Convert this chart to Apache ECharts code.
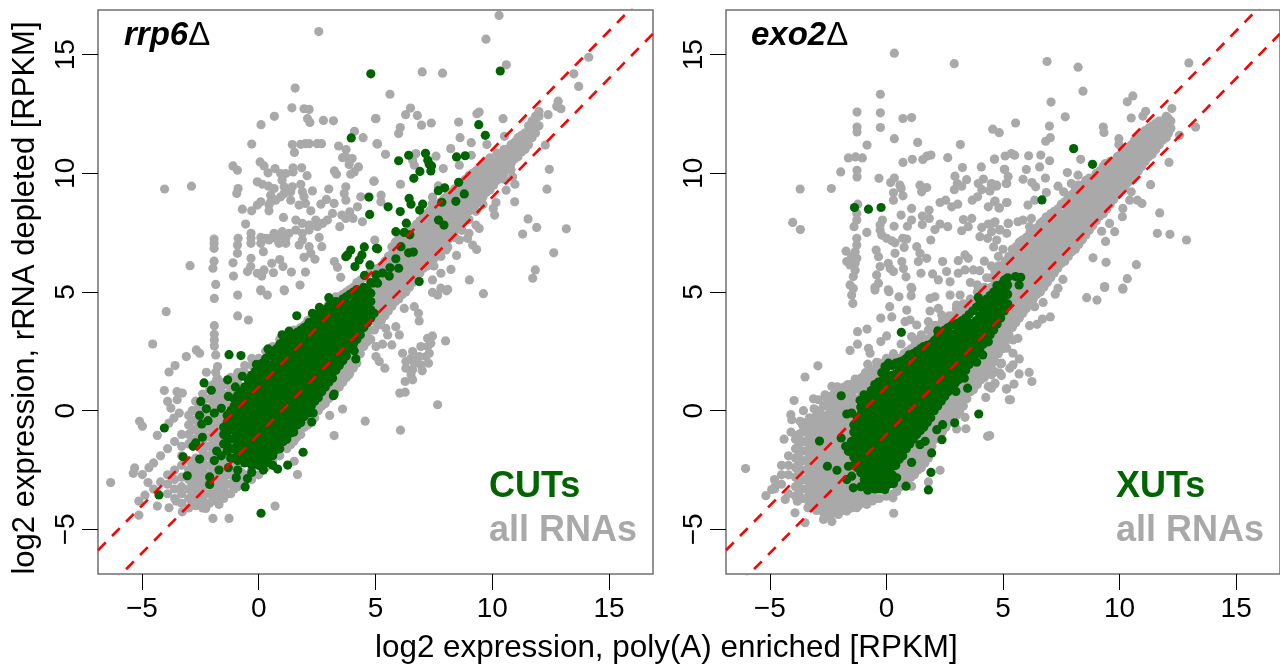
<!DOCTYPE html>
<html><head><meta charset="utf-8">
<style>html,body{margin:0;padding:0;background:#fff}#c{width:1280px;height:667px}</style>
<script src="https://cdn.jsdelivr.net/npm/echarts@6/dist/echarts.min.js"></script>
</head><body><div id="c"></div>
<script>
const tickValues=[-5,0,5,10,15];
const axisMin=-6.88, axisMax=16.88;
const lineOffsets=[1,-1];
const panelTitles=['rrp6','exo2'];
const panelLegends=['CUTs','XUTs'];
const legendAll='all RNAs';
const xTitle='log2 expression, poly(A) enriched [RPKM]';
const yTitle='log2 expression, rRNA depleted [RPKM]';

// left panel: dense areas estimated as columns [x,[y...]]
const grayBandLeft=[[-4.7,[-2.4]],[-4.5,[-3.3,-2.2]],[-4.2,[-3.0,-1.9]],[-3.9,[-3.5,-3.1,-2.7,-1.6]],[-3.6,[-3.7,-3.3,-2.9,-2.5,-1.3]],[-3.3,[-3.9,-3.5,-3.2,-2.8,-2.3,-1.9,-1.5,-1.0]],[-3.0,[-4.1,-3.7,-3.3,-2.9,-2.5,-2.1,-1.4,-1.0,-0.6,-0.2]],[-2.7,[-4.0,-3.6,-3.2,-2.8,-2.4,-2.0,-1.2,-0.8,-0.4,0,0.4]],[-2.4,[-4.1,-3.7,-3.3,-2.9,-2.5,-2.1,-1.7,-1.3,-.9,-.5,-.1,.3,.7]],[-2.1,[-3.9,-3.5,-3.1,-2.7,-2.3,-1.9,-1.5,-1.1,-.7,-.3,.1,.5,.9]],[-1.8,[-3.8,-3.4,-3,-2.6,-2.2,-1.8,-1.4,-1,-.6,-.2,.2,.6,1,1.3]],[-1.5,[-3.7,-3.3,-2.9,-2.5,-2.1,-1.7,-1.3,-.9,-.5,-.1,.3,.7,1.1]],[-1.2,[-3.5,-3.1,-2.7,-2.3,-1.9,.4,.8,1.4]],[-.9,[-3.2,-2.8,-2.4,1.2,1.6]],[-.6,[-3.1,-2.7,1.6,1.9]],[-.3,[-2.9,-2.5,1.9,2.2]],[0,[-2.7,-2.3,2.2]],[.3,[-2.4,-2,2.5]],[.6,[-2.1,2.7]],[.9,[-1.9,-1.5,3]],[1.2,[-1.6,-1.2,3.1]],[1.5,[-1.3,-.9,3.4]],[1.8,[-1,-.6,3.5]],[2.1,[-.6,-.2,3.8]],[2.4,[-.3,.1,.5,4]],[2.7,[.2,.6,4.2]],[3,[.5,.9,4.5]],[3.3,[.9,1.3,4.8]],[3.6,[1.2,1.6,2,4.9]],[3.9,[1.6,2,2.4,5.1]],[4.2,[2,2.4,2.8,5.4]],[4.5,[2.7,3.1,3.5,5.6]],[4.8,[3,3.4,3.8,4.2,5.9]],[5.1,[3.6,4,4.4,4.8,5.2,5.6,6]],[5.4,[4,4.4,4.8,5.2,5.6,6,6.3]],[5.7,[4.4,4.8,5.2,5.6,6,6.4,6.6,6.9]],[6,[4.7,5.1,5.5,5.9,6.3,6.7,7,7.3]],[6.3,[5,5.4,5.8,6.2,6.6,7,7.2,7.5]],[6.6,[5.4,5.8,6.2,6.6,7,7.4,7.7]],[6.9,[5.8,6.2,6.6,7,7.4,7.7,8]],[7.2,[6.1,6.5,6.9,7.3,7.7,8,8.3]],[7.5,[6.1,6.4,6.8,7.2,7.6,8,8.3,8.6]],[7.8,[6.5,6.9,7.3,7.7,8.1,8.5,8.8]],[8.1,[6.9,7.2,7.6,8,8.4,8.8,9.1]],[8.4,[7.3,7.6,8,8.4,8.8,9.1,9.35]],[8.7,[7.6,7.9,8.3,8.7,9.1,9.3,9.6]],[9,[8.05,8.4,8.8,9.2,9.6,9.9]],[9.3,[8.4,8.7,9.1,9.5,9.8,10.1]],[9.6,[8.7,9,9.4,9.8,10.1,10.4]],[9.9,[9.3,9.7,10.1,10.4,10.65]],[10.2,[9.7,10.1,10.5,10.85]],[10.5,[9.75,10,10.4,10.8,11]],[10.8,[10.15,10.4,10.8,11.2]],[11.1,[10.7,11.1,11.5]],[11.4,[11,11.4,11.7]],[11.7,[11.5,11.9,12.2]],[12,[12,12.4,12.6]]];
const grayFillLeft=[[-2.85,[-3.9,-3.5,-3.1,-2.7,-2.3,-1.2,-.8,-.4,0]],[-2.55,[-3.8,-3.4,-3,-2.6,-2.2,-1,-.6,-.2,.2]],[-2.25,[-3.9,-3.5,-3.1,-2.7,-2.3,-1.9,-1.5,-1.1,-.7,-.3,.1,.5]],[-1.95,[-3.7,-3.3,-2.9,-2.5,-2.1,-1.7,-1.3,-.9,-.5,-.1,.3,.7,1.1]],[-1.65,[-3.5,-3.1,-2.7,-2.3,-1.9,-1.5,-1.1,-.7,-.3,.1,.5,.9,1.2]],[-1.35,[-3.5,-3.1,-2.7,-2.3,-1.9,-1.5,-1.1,.3,.7,1.1]],[-1.05,[-3.3,-2.9,-2.5,1.3]],[-.75,[-3,-2.6,1.6]],[1.35,[-1.4,-1.1,3.2]],[1.65,[-1.1,-.8,3.4]],[1.95,[-.7,-.4,3.6]],[2.25,[-.4,0,3.9]],[2.55,[0,.3,4.1]],[2.85,[.3,.7,4.3]],[3.15,[.7,1.1,4.6]],[3.45,[1,1.4,1.8,4.8]],[3.75,[1.4,1.8,2.2,5]],[4.05,[1.8,2.2,2.6,5.2]],[4.35,[2.4,2.8,3.2,5.5]],[4.65,[2.9,3.3,3.7,5.7]],[4.95,[3.4,3.8,4.2,4.6,5,5.4,5.8]],[5.25,[3.8,4.2,4.6,5,5.4,5.8,6.1]],[5.55,[4.2,4.6,5,5.4,5.8,6.2,6.5]],[5.85,[4.6,5,5.4,5.8,6.2,6.6,6.8,7.1]],[6.15,[4.9,5.3,5.7,6.1,6.5,6.9,7.1,7.35]],[6.45,[5.2,5.6,6,6.4,6.8,7.2,7.55]],[6.75,[5.6,6,6.4,6.8,7.2,7.5,7.85]],[7.05,[6,6.4,6.8,7.2,7.6,7.9,8.2]],[7.35,[6.3,6.7,7.1,7.5,7.9,8.2,8.45]],[7.65,[6.7,7.1,7.5,7.9,8.3,8.7]],[7.95,[7,7.4,7.8,8.2,8.6,8.95]],[8.25,[7.4,7.8,8.2,8.6,9,9.2]],[8.55,[7.8,8.2,8.6,9,9.2,9.45]],[8.85,[8.1,8.5,8.9,9.3,9.75]],[9.15,[8.5,8.9,9.3,9.7,10]],[9.45,[8.9,9.3,9.7,10,10.25]],[9.75,[9.2,9.6,10,10.2,10.5]],[10.05,[9.5,9.9,10.3]],[10.35,[9.9,10.3,10.7]],[10.65,[10.2,10.6,11]],[10.95,[10.6,11,11.3]],[11.25,[10.9,11.3,11.6]],[11.55,[11.2,11.6,12]],[11.85,[11.7,12.1,12.4]]];
const greenBandLeft=[[-1.5,[-1.4,-1,-.7]],[-1.2,[-2,-1.6,-1.2,-.8,-.4,0]],[-.9,[-2.1,-1.75,-1.4,-1.05,-.7,-.35,0,.35,.65]],[-.6,[-2.2,-1.85,-1.5,-1.15,-.8,-.45,-.1,.25,.6,1]],[-.3,[-2.3,-1.95,-1.6,-1.25,-.9,-.55,-.2,.15,.5,.85,1.2,1.5]],[0,[-2.3,-1.95,-1.6,-1.25,-.9,-.55,-.2,.15,.5,.85,1.2,1.55,1.9]],[.3,[-2.2,-1.85,-1.5,-1.15,-.8,-.45,-.1,.25,.6,.95,1.3,1.65,2,2.2]],[.6,[-1.9,-1.55,-1.2,-.85,-.5,-.15,.2,.55,.9,1.25,1.6,1.95,2.3,2.5]],[.9,[-1.6,-1.25,-.9,-.55,-.2,.15,.5,.85,1.2,1.55,1.9,2.25,2.6,2.8]],[1.2,[-1.2,-.85,-.5,-.15,.2,.55,.9,1.25,1.6,1.95,2.3,2.65,3]],[1.5,[-.9,-.55,-.2,.15,.5,.85,1.2,1.55,1.9,2.25,2.6,2.95,3.2]],[1.8,[-.5,-.15,.2,.55,.9,1.25,1.6,1.95,2.3,2.65,3,3.4]],[2.1,[-.1,.25,.6,.95,1.3,1.65,2,2.35,2.7,3.05,3.4,3.6]],[2.4,[.4,.75,1.1,1.45,1.8,2.15,2.5,2.85,3.2,3.55,3.9]],[2.7,[.8,1.15,1.5,1.85,2.2,2.55,2.9,3.25,3.6,3.95,4.2]],[3,[1.2,1.55,1.9,2.25,2.6,2.95,3.3,3.65,4,4.4]],[3.3,[1.7,2.05,2.4,2.75,3.1,3.45,3.8,4.15,4.6]],[3.6,[2.1,2.45,2.8,3.15,3.5,3.85,4.2,4.7]],[3.9,[2.6,2.95,3.3,3.65,4,4.35,4.9]],[4.2,[3,3.35,3.7,4.05,4.4,4.75,5.1]],[4.5,[3.5,3.85,4.2,4.55,4.9,5.2]],[4.8,[3.9,4.25,4.6,4.95,5.4]]];
const greenFillLeft=[[-1.35,[-1.7,-1.3,-.9,-.5,-.2]],[-1.05,[-2,-1.6,-1.2,-.85,-.5,-.15,.2,.5]],[-.75,[-2.05,-1.7,-1.35,-1,-.65,-.3,.05,.4,.8]],[-.45,[-2.15,-1.8,-1.45,-1.1,-.75,-.4,-.05,.3,.65,1,1.3]],[-.15,[-2.2,-1.85,-1.5,-1.15,-.8,-.45,-.1,.25,.6,.95,1.3,1.65]],[.15,[-2.15,-1.8,-1.45,-1.1,-.75,-.4,-.05,.3,.65,1,1.35,1.7,2]],[.45,[-1.95,-1.6,-1.25,-.9,-.55,-.2,.15,.5,.85,1.2,1.55,1.9,2.3]],[.75,[-1.65,-1.3,-.95,-.6,-.25,.1,.45,.8,1.15,1.5,1.85,2.2,2.6]],[1.05,[-1.3,-.95,-.6,-.25,.1,.45,.8,1.15,1.5,1.85,2.2,2.55,2.9]],[1.35,[-.95,-.6,-.25,.1,.45,.8,1.15,1.5,1.85,2.2,2.55,2.9,3.1]],[1.65,[-.6,-.25,.1,.45,.8,1.15,1.5,1.85,2.2,2.55,2.9,3.3]],[1.95,[-.25,.1,.45,.8,1.15,1.5,1.85,2.2,2.55,2.9,3.25,3.5]],[2.25,[.2,.55,.9,1.25,1.6,1.95,2.3,2.65,3,3.35,3.7]],[2.55,[.55,.9,1.25,1.6,1.95,2.3,2.65,3,3.35,3.7,4.05]],[2.85,[1,1.35,1.7,2.05,2.4,2.75,3.1,3.45,3.8,4.25]],[3.15,[1.4,1.75,2.1,2.45,2.8,3.15,3.5,3.85,4.25,4.5]],[3.45,[1.9,2.25,2.6,2.95,3.3,3.65,4,4.4]],[3.75,[2.3,2.65,3,3.35,3.7,4.05,4.5,4.8]],[4.05,[2.8,3.15,3.5,3.85,4.2,4.55,5]],[4.35,[3.2,3.55,3.9,4.25,4.6,4.95]],[4.65,[3.7,4.05,4.4,4.75,5.1]]];
// left panel: individually read points
const grayPointsLeft=[[2.57,15.97],[1.56,13.59],[1.42,12.76],[1.94,12.72],[2.16,12.69],[.67,12.4],[.1,12.05],[2.09,12.3],[2.19,12.14],[2.77,12.23],[3.2,12.21],[5,12.3],[4.1,11.77],[4.47,11.5],[-.3,11.23],[1.44,11.21],[1.8,11.22],[2,11.25],[2.16,11.25],[2.5,11.25],[2.69,11.25],[1.53,10.88],[3.42,11.15],[3.74,11],[3.73,10.69],[3.59,10.66],[4,10.62],[3.87,10.37],[4.27,10.27],[4.09,10.06],[3.94,9.96],[-1.1,10.31],[-.91,10.13],[.06,10.48],[.23,10.31],[.4,10.02],[.7,10.2],[.94,9.99],[1.16,9.99],[1.47,10.23],[1.47,10.06],[1.84,10.23],[2.07,9.9],[1,9.71],[-.06,9.64],[.16,9.54],[.42,9.46],[.66,9.36],[-.88,9.36],[-.94,9.15],[-4.03,9.34],[-2.88,9.46],[1.09,9.43],[1.44,9.43],[1.8,9.54],[1.87,9.22],[1.37,9.22],[1.09,9.15],[2.3,9.26],[3,9.34],[.51,9.08],[.51,8.8],[.73,8.87],[.94,9.01],[1.37,8.87],[1.94,9.01],[2,8.73],[1.73,8.66],[.44,8.66],[3.73,9.43],[3.66,9.15],[3.73,8.87],[4.37,9.01],[4.94,9.67],[3.24,10.1],[3.33,9.96],[.09,8.8],[-.06,8.66],[-.3,8.42],[-.7,8.49],[.44,8.42],[1.06,8.14],[-.56,7.86],[2.66,8.7],[2.9,8.9],[3.23,8.73],[2.23,8.42],[3.16,8.31],[3.56,8.24],[3.9,8.38],[4.23,8.59],[4.04,8.1],[3.73,8.1],[4.44,7.96],[1.59,8.03],[1.87,7.89],[2.16,7.82],[2.44,8.03],[2.73,7.89],[2.94,8.03],[2.51,7.75],[3.47,7.75],[1.59,7.61],[1.87,7.47],[2.16,7.61],[1.87,7.19],[1.73,6.98],[2.16,6.91],[2.59,7.3],[2.7,6.91],[2.23,6.63],[.09,7.3],[.3,7.26],[.51,7.26],[.73,7.26],[.94,7.26],[1.16,7.26],[1.3,7.47],[1.01,7.54],[.66,7.47],[1.16,7.05],[.87,7.05],[.44,7.19],[-.33,7.47],[-.33,7.26],[-.33,7.05],[.09,7.05],[.2,6.7],[-.88,7.26],[-.91,6.98],[-.91,6.63],[-1.91,7.23],[-1.91,6.84],[-1.91,7.05],[-1.91,6.3],[-1.96,6],[-1.1,6.23],[-1.08,5.67],[-1.84,5.32],[-2.94,6.11],[-.33,6.42],[-.34,6.07],[-.48,5.86],[-.06,5.79],[.13,5.67],[.23,5.93],[.63,5.81],[.56,6.21],[.9,6.37],[1.04,6.07],[1.4,5.84],[2,5.84],[1.94,6.46],[2.41,6.38],[3.24,6.28],[3.37,6.04],[3.51,5.62],[4.97,7.19],[5.06,11.25],[1.77,5.29],[1.09,5.09],[.09,5.09],[-3.96,4.17],[-1.9,4.73],[-.9,4.87],[.09,5.05],[.37,4.87],[1.1,5.05],[-.9,3.99],[-.44,3.82],[-1.9,3.58],[-1.9,3.22],[-1.9,2.98],[-1.9,2.73],[-4.54,2.81],[-2.67,2.56],[-2.53,2.42],[-1.84,2.35],[-3.1,2.28],[-3.58,1.9],[-3.84,1.63],[-2.24,1.62],[-1.76,1.86],[-1.84,1.62],[-1.77,1.37],[-1.63,1.16],[-4.04,.85],[-3.5,.8],[-3.27,.74],[-3.49,.46],[-3.9,.39],[-3.76,.11],[-3.4,-.1],[-3.63,-.31],[-3.84,-.52],[-5.1,-.45],[-4.98,-.66],[-4.34,-1.04],[-5.31,-2.41],[-5.37,-2.64],[-4.98,-2.69],[-6.34,-3.03],[-4.74,-3.03],[-5.13,-3.81],[-4.87,-3.56],[-5.13,-4.4],[-4.34,-4.02],[-3.84,-4.09],[-3.53,-3.81],[-3.27,-4.26],[-2.27,-4.12],[-1.96,-4.54],[-1.27,-4.54],[-1.7,-3.95],[.7,-4.02],[1.66,-2.69],[3.23,-1.05],[3.59,.07],[3.04,-.2],[4.56,-.44],[1.52,-2.13],[1.37,-1.43],[1.59,-1.15],[3.87,1.51],[3.73,1.4],[3.37,1.09],[3.3,.95],[10.29,16.65],[9.73,15.65],[10.6,14.57],[7,14.27],[7.87,14.22],[5.62,13.33],[14.13,14.89],[13.49,14.19],[13.7,13.66],[12.82,13.04],[12.76,12.82],[12.94,12.72],[12.39,12.47],[6.5,12.75],[6.29,12.47],[6.79,12.44],[5.02,12.31],[6.06,11.93],[5.99,11.68],[6.97,12.03],[7.39,12.12],[8.56,12.16],[9.34,12.51],[9.44,12.58],[10.46,12.3],[8.62,11.5],[9.1,11.29],[9.77,11.21],[10.52,11.56],[5.09,11.23],[5.43,10.8],[8.22,11.04],[6.73,10.83],[6.59,10.55],[6.66,10.34],[7.59,10.72],[7.9,10.2],[8.59,10.34],[9.1,10.76],[12.27,11.19],[12.44,10.17],[12.34,9.33],[4.93,9.67],[6.07,9.54],[5.24,9.08],[5.23,8.8],[7.69,9.47],[7.44,9],[7.44,8.73],[10.96,8.8],[10.16,8.77],[10.04,8.52],[10.1,8.24],[11.53,8.08],[11.9,7.72],[11.3,7.44],[13.17,7.66],[12.63,6.65],[11.84,5.93],[11.73,5.58],[9.02,5.51],[8.23,5.95],[7.8,5.79],[7.44,5.51],[7.8,5.16],[8.09,5.11],[9.3,7.82],[9.44,7.68],[9,7.47],[8.59,7.19],[8.94,7.26],[9.16,6.98],[9.33,6.79],[8.47,6.54],[8.02,6.77],[10.87,9.85],[10.97,9.54],[10.59,9.29],[9.62,4.93],[8.04,5.05],[7.66,4.87],[7.44,4.98],[6.87,3.78],[6.84,4.1],[6.66,4.38],[6.23,4.31],[5.87,3.54],[6.02,3.19],[5.44,3.47],[5.52,3.19],[5.7,2.77],[5.3,2.8],[5.02,2.7],[8,2.94],[7.44,3.15],[7.23,3.05],[7.37,2.84],[7.23,2.7],[6.94,2.7],[7.3,2.42],[7.16,2.28],[6.87,2.28],[7.27,2],[6.94,1.93],[7,1.68],[6.59,2.49],[6.52,2.21],[6.3,2.07],[6.66,2],[6.3,1.79],[6.59,1.72],[6.52,1.51],[6.59,1.3],[6.27,1.23],[6.16,2.42],[6.04,.74],[6.27,.78],[7.66,.25],[6.07,-.82],[5.02,2.28],[5.16,2.07],[5.4,1.79]];
const greenPointsLeft=[[10.34,14.31],[4.8,14.19],[9.42,12.05],[9.7,11.6],[3.96,11.49],[6.42,10.76],[5.99,10.53],[7.14,10.84],[7.24,10.55],[7.3,10.38],[7.4,10.31],[7.37,10.1],[6.9,10.08],[6.64,9.79],[8.47,10.69],[8.84,10.74],[8.56,9.62],[7.96,9.39],[7.69,9.27],[8.8,9.13],[6.44,8.94],[6.52,8.7],[7.84,8.78],[8.44,8.82],[7.02,8.7],[6.89,8.45],[6.06,8.39],[5.54,8.59],[4.72,9],[4.75,8.27],[6.32,7.9],[7.7,8.03],[7.93,7.82],[5.87,7.54],[6.23,7.51],[6.47,7.41],[5.09,6.82],[6.09,6.91],[6.42,6.65],[6.62,6.68],[5.87,6.4],[5.62,6.02],[5.99,6],[6.87,5.44],[5.3,5.8],[5.02,5.72],[5.59,5.67],[4.87,5.37],[5.09,5.37],[4.76,6.14],[3.8,6.56],[3.94,6.77],[3.73,6.49],[4.52,6.9],[5.04,6.84],[4.42,6.56],[4.3,6.35],[4.12,6.07],[4.53,5.7],[-1.27,2.36],[-.76,2.32],[-2.34,1.17],[-2.03,.86],[-1.33,1.3],[-2.48,.39],[-2.24,.08],[-2.53,-.2],[-2.17,-.42],[-2.44,-.56],[-4.04,-.73],[-2.41,-1.12],[-2.7,-1.36],[-2.81,-1.5],[-3.24,-1.94],[-2.53,-2.04],[-3.06,-2.74],[-2.1,-2.79],[-2.1,-3.11],[-4.27,-3.55],[.1,-4.32],[-.96,-2.82],[-.48,-2.86],[-.58,-3.21],[.81,-2.46],[1.24,-2.29],[1.9,-1.75],[2.27,-.48],[2.33,-.1],[2.07,.15],[3.2,.63],[3.23,.7],[3.16,1.37],[3.3,1.86],[4.09,2.53],[4.16,2.18],[4.94,4.1],[1.63,4],[2.16,3.72],[3,4.76],[-1.9,-.1],[-1.8,-1.7],[-1.9,-2.1],[-1.7,-2.5],[-1.6,.1],[-1.3,.6],[-1,1],[-.7,1.45],[-.1,1.95],[.4,2.6],[1,3.2],[1.3,3.35],[2.3,4.1],[2.6,4.35],[-1.6,-1.9],[-1.3,-2.4],[-.9,-2.5],[-.3,-2.6],[.2,-2.5],[.6,-2.3]];

// right panel
const grayBandRight=[[-4.8,[-3.3,-2.9]],[-4.5,[-3.1,-2.7,-2.3]],[-4.2,[-3.5,-2.7,-2.3,-1.9]],[-3.9,[-3.6,-3.2,-2.8,-2.4,-2,-1.6,-1.2]],[-3.6,[-3.7,-3.3,-2.9,-2.5,-2.1,-1.7,-1.3,-.9,-.6]],[-3.3,[-3.9,-3.5,-3.1,-2.7,-2.3,-1.9,-1.5,-1.1,-.7,-.3]],[-3,[-4.2,-3.8,-3.4,-3,-2.6,-2.2,-1.8,-1.4,-1,-.6,-.2]],[-2.7,[-4.3,-3.9,-3.5,-3.1,-2.7,-2.3,-1.9,-1.5,-1.1,-.7,-.3,.2]],[-2.4,[-4.4,-4,-3.6,-3.2,-2.8,-2.4,-2,-1.6,-1.2,-.8,-.4,0,.6]],[-2.1,[-4.3,-3.9,-3.5,-3.1,-2.7,-2.3,-1.9,-1.5,-1.1,-.7,-.3,.1,.5,1]],[-1.8,[-4.2,-3.8,-3.4,-3,-2.6,-2.2,-1.8,-1.4,-1,-.6,-.2,.2,.6,1]],[-1.5,[-4.1,-3.7,-3.3,-2.9,-2.5,-2.1,-1.7,-1.3,-.9,-.5,-.1,.3,.7,1.1]],[-1.2,[-4,-3.6,-3.2,-2.8,-2.4,.1,.5,.9,1.3]],[-.9,[-3.9,-3.5,.9,1.3,1.6]],[-.6,[-3.8,-3.4,1.3,1.7]],[-.3,[-3.7,1.7,2]],[0,[-3.6,2,2.2]],[.3,[-3.5,-3.1,2.1,2.4]],[.6,[-3.2,-2.8,-2.4,-2,2.2]],[.9,[-3,-2.6,-2.2,-1.8,2.5]],[1.2,[-2.7,-2.3,-1.9,-1.5,2.7,3]],[1.5,[-2.4,-2,-1.6,-1.2,2.8,3.2]],[1.8,[-2,-1.6,-1.2,-.8,3,3.4]],[2.1,[-1.2,-.8,-.4,3.2,3.6]],[2.4,[-.9,-.5,-.1,3.4,3.8]],[2.7,[-.5,-.1,.3,3.6,4]],[3,[-.2,.2,.6,3.9,4.3]],[3.3,[.2,.6,1,4.1,4.5]],[3.6,[.8,1.2,1.6,4.3,4.7]],[3.9,[1.1,1.5,1.9,4.6,5]],[4.2,[1.4,1.8,2.2,2.6,4.8,5.2]],[4.5,[1.9,2.3,2.7,3.1,5.2,5.6]],[4.8,[2.4,2.8,3.2,5.4,5.8,6.1]],[5.1,[2.9,3.3,3.7,4.1,4.5,4.9,5.3,5.7,6,6.3]],[5.4,[3.5,3.9,4.3,4.7,5.1,5.5,5.9,6.3,6.8]],[5.7,[3.9,4.3,4.7,5.1,5.5,5.9,6.3,6.7,7.1]],[6,[4.3,4.7,5.1,5.5,5.9,6.3,6.7,7,7.3]],[6.3,[4.7,5.1,5.5,5.9,6.3,6.7,7.1,7.6]],[6.6,[5,5.4,5.8,6.2,6.6,7,7.4,7.9]],[6.9,[5.4,5.8,6.2,6.6,7,7.4,7.8,8.1]],[7.2,[5.8,6.2,6.6,7,7.4,7.8,8.1,8.4]],[7.5,[6.2,6.6,7,7.4,7.8,8.2,8.7]],[7.8,[6.5,6.9,7.3,7.7,8.1,8.5,9]],[8.1,[6.8,7.2,7.6,8,8.4,8.8,9.3]],[8.4,[7.2,7.6,8,8.4,8.8,9.2,9.5]],[8.7,[7.6,8,8.4,8.8,9.2,9.6,9.8]],[9,[8,8.4,8.8,9.2,9.6,10]],[9.3,[8.3,8.7,9.1,9.5,9.9,10.3]],[9.6,[8.7,9.1,9.5,9.9,10.2,10.5]],[9.9,[9.1,9.5,9.9,10.3,10.7]],[10.2,[9.4,9.8,10.2,10.6,10.9]],[10.5,[9.7,10.1,10.5,10.9,11.2]],[10.8,[10.1,10.5,10.9,11.2,11.5]],[11.1,[10.5,10.9,11.3,11.8]],[11.4,[10.8,11.2,11.6,12]],[11.7,[11.2,11.6,11.9,12.2]],[12,[11.5,11.9,12.4]],[12.2,[11.9,12.2]]];
const grayFillRight=[[-3.75,[-3.4,-3,-2.6,-2.2,-1.8,-1.4,-1]],[-3.45,[-3.7,-3.3,-2.9,-2.5,-2.1,-1.7,-1.3,-.9,-.5]],[-3.15,[-4,-3.6,-3.2,-2.8,-2.4,-2,-1.6,-1.2,-.8,-.4]],[-2.85,[-4.1,-3.7,-3.3,-2.9,-2.5,-2.1,-1.7,-1.3,-.9,-.5,0]],[-2.55,[-4.2,-3.8,-3.4,-3,-2.6,-2.2,-1.8,-1.4,-1,-.6,-.2,.2,.5]],[-2.25,[-4.1,-3.7,-3.3,-2.9,-2.5,-2.1,-1.7,-1.3,-.9,-.5,-.1,.3,.7]],[-1.95,[-4.1,-3.7,-3.3,-2.9,-2.5,-2.1,-1.7,-1.3,-.9,-.5,-.1,.3,.7,.9]],[-1.65,[-4,-3.6,-3.2,-2.8,-2.4,-2,-1.6,-1.2,-.8,-.4,0,.4,.8,1.1]],[-1.35,[-3.9,-3.5,-3.1,-2.7,-.3,.1,.5,.9,1.2]],[-1.05,[-3.8,-3.4,-3,.6,1,1.4]],[-.75,[-3.8,-3.5,1,1.5]],[-.45,[-3.7,1.4,1.8]],[.45,[-3.4,-3,-2.6,2.2]],[.75,[-3.1,-2.7,-2.3,-1.9,2.4]],[1.05,[-2.8,-2.4,-2,-1.6,2.6]],[1.35,[-2.5,-2.1,-1.7,-1.3,2.8]],[1.65,[-2.2,-1.8,-1.4,-1,3]],[1.95,[-1.5,-1.1,-.7,3.2]],[2.25,[-1,-.6,-.2,3.5]],[2.55,[-.7,-.3,.1,3.7]],[2.85,[-.3,.1,.5,4]],[3.15,[0,.4,.8,4.2]],[3.45,[.5,.9,1.3,4.4]],[3.75,[1,1.4,1.8,4.6]],[4.05,[1.3,1.7,2.1,2.5,4.9]],[4.35,[1.6,2,2.4,2.8,5.1]],[4.65,[2.1,2.5,2.9,3.3,5.5,5.9]],[4.95,[2.6,3,3.4,3.8,5.6,6.1]],[5.25,[3.2,3.6,4,4.4,4.8,5.2,5.6,6,6.5]],[5.55,[3.7,4.1,4.5,4.9,5.3,5.7,6.1,6.5,6.9]],[5.85,[4.1,4.5,4.9,5.3,5.7,6.1,6.5,6.9,7.2]],[6.15,[4.5,4.9,5.3,5.7,6.1,6.5,6.9,7.3,7.5]],[6.45,[4.9,5.3,5.7,6.1,6.5,6.9,7.3,7.7]],[6.75,[5.2,5.6,6,6.4,6.8,7.2,7.6,8]],[7.05,[5.6,6,6.4,6.8,7.2,7.6,8,8.3]],[7.35,[6,6.4,6.8,7.2,7.6,8,8.5]],[7.65,[6.3,6.7,7.1,7.5,7.9,8.3,8.8]],[7.95,[6.7,7.1,7.5,7.9,8.3,8.7,9.1]],[8.25,[7,7.4,7.8,8.2,8.6,9,9.4]],[8.55,[7.4,7.8,8.2,8.6,9,9.4,9.7]],[8.85,[7.8,8.2,8.6,9,9.4,9.8]],[9.15,[8.2,8.6,9,9.4,9.8,10.1]],[9.45,[8.5,8.9,9.3,9.7,10.1,10.4]],[9.75,[8.9,9.3,9.7,10.1,10.5]],[10.05,[9.3,9.7,10.1,10.5,10.8]],[10.35,[9.6,10,10.4,10.8,11]],[10.65,[9.9,10.3,10.7,11.1,11.4]],[10.95,[10.3,10.7,11.1,11.5,11.7]],[11.25,[10.7,11.1,11.5,11.9]],[11.55,[11,11.4,11.8,12.1]],[11.85,[11.4,11.8,12.2]],[12.1,[11.7,12.1,12.3]]];
const greenBandRight=[[-1.4,[-2.3,-1.95,-1.6,-1.25,-.9,-.6]],[-1.1,[-2.6,-2.25,-1.9,-1.55,-1.2,-.85,-.5,-.15,.15]],[-.8,[-3.1,-2.75,-2.4,-2.05,-1.7,-1.35,-1,-.65,-.3,.05,.35,.6]],[-.5,[-3.3,-2.95,-2.6,-2.25,-1.9,-1.55,-1.2,-.85,-.5,-.15,.2,.55,.85,1.1]],[-.2,[-3.3,-2.95,-2.6,-2.25,-1.9,-1.55,-1.2,-.85,-.5,-.15,.2,.55,.9,1.25,1.6]],[.1,[-3.1,-2.75,-2.4,-2.05,-1.7,-1.35,-1,-.65,-.3,.05,.4,.75,1.1,1.45,1.9]],[.4,[-2.3,-1.95,-1.6,-1.25,-.9,-.55,-.2,.15,.5,.85,1.2,1.55,2]],[.7,[-1.9,-1.55,-1.2,-.85,-.5,-.15,.2,.55,.9,1.25,1.6,2.1]],[1,[-1.4,-1.05,-.7,-.35,0,.35,.7,1.05,1.4,1.75,2.3]],[1.3,[-1,-.65,-.3,.05,.4,.75,1.1,1.45,1.8,2.15,2.5]],[1.6,[-.7,-.35,0,.35,.7,1.05,1.4,1.75,2.1,2.45,2.7]],[1.9,[-.3,.05,.4,.75,1.1,1.45,1.8,2.15,2.5,2.8]],[2.2,[.2,.55,.9,1.25,1.6,1.95,2.3,2.65,3.1]],[2.5,[.6,.95,1.3,1.65,2,2.35,2.7,3.05,3.4]],[2.8,[1,1.35,1.7,2.05,2.4,2.75,3.1,3.6]],[3.1,[1.3,1.65,2,2.35,2.7,3.05,3.4,3.7]],[3.4,[1.7,2.05,2.4,2.75,3.1,3.45,3.9]],[3.7,[2.2,2.55,2.9,3.25,3.6,4.2]],[4,[2.6,2.95,3.3,3.65,4,4.5]],[4.3,[3,3.35,3.7,4.05,4.4,4.7]],[4.6,[3.4,3.75,4.1,4.45,5]],[4.9,[3.9,4.25,4.6,4.95,5.3]],[5.2,[4.5,4.9,5.3,5.6]]];
const greenFillRight=[[-1.25,[-2.4,-2.05,-1.7,-1.35,-1,-.65,-.3]],[-.95,[-2.9,-2.55,-2.2,-1.85,-1.5,-1.15,-.8,-.45,-.1,.25]],[-.65,[-3.2,-2.85,-2.5,-2.15,-1.8,-1.45,-1.1,-.75,-.4,-.05,.3,.65,.85]],[-.35,[-3.3,-2.95,-2.6,-2.25,-1.9,-1.55,-1.2,-.85,-.5,-.15,.2,.55,.9,1.2]],[-.05,[-3.2,-2.85,-2.5,-2.15,-1.8,-1.45,-1.1,-.75,-.4,-.05,.3,.65,1,1.35,1.7]],[.25,[-2.7,-2.35,-2,-1.65,-1.3,-.95,-.6,-.25,.1,.45,.8,1.15,1.5,1.9]],[.55,[-2.05,-1.7,-1.35,-1,-.65,-.3,.05,.4,.75,1.1,1.45,1.8,2.05]],[.85,[-1.6,-1.25,-.9,-.55,-.2,.15,.5,.85,1.2,1.55,1.9,2.2]],[1.15,[-1.2,-.85,-.5,-.15,.2,.55,.9,1.25,1.6,1.95,2.4]],[1.45,[-.85,-.5,-.15,.2,.55,.9,1.25,1.6,1.95,2.3,2.6]],[1.75,[-.5,-.15,.2,.55,.9,1.25,1.6,1.95,2.3,2.75]],[2.05,[0,.35,.7,1.05,1.4,1.75,2.1,2.45,2.95]],[2.35,[.4,.75,1.1,1.45,1.8,2.15,2.5,2.85,3.25]],[2.65,[.8,1.15,1.5,1.85,2.2,2.55,2.9,3.25,3.5]],[2.95,[1.15,1.5,1.85,2.2,2.55,2.9,3.25,3.65]],[3.25,[1.5,1.85,2.2,2.55,2.9,3.25,3.6,3.8]],[3.55,[1.95,2.3,2.65,3,3.35,3.7,4.05]],[3.85,[2.4,2.75,3.1,3.45,3.8,4.35]],[4.15,[2.8,3.15,3.5,3.85,4.2,4.6]],[4.45,[3.2,3.55,3.9,4.25,4.6,4.85]],[4.75,[3.65,4,4.35,4.7,5.15]],[5.05,[4.2,4.55,4.9,5.25,5.5]]];
const grayPointsRight=[[.34,15.06],[2.91,14.62],[-.26,13.33],[-1.26,12.58],[-.26,12.55],[.71,12.31],[1.08,12.35],[-1.26,11.95],[-1.26,11.74],[-.26,11.93],[4.56,11.86],[4.84,11.71],[.34,11.46],[1.34,11.3],[3.17,11.21],[-.83,11.19],[-1.63,10.65],[-1.32,10.69],[-1.03,10.65],[.71,10.46],[1.11,10.59],[1.56,10.58],[1.73,10.72],[1.91,10.77],[2.63,10.66],[4.64,10.6],[5.09,10.73],[3.26,10.24],[4.07,10.27],[5.06,10.17],[-1.96,10.06],[-1.26,10.13],[-1.26,9.85],[-.32,9.79],[.34,9.8],[.18,9.61],[.58,9.5],[.63,9.36],[2.94,9.88],[3.44,9.73],[3.04,9.57],[3.23,9.46],[2.91,9.31],[1.44,9.5],[1.73,9.4],[1.51,9.22],[4.16,9.76],[3.94,9.57],[4.09,9.31],[4.51,9.57],[4.73,9.5],[4.44,9.26],[5.16,9.57],[-3.7,9.34],[-2.36,9.36],[.3,9.18],[.3,8.87],[.71,9.05],[2.3,8.77],[2.54,8.87],[2.8,8.59],[3.06,8.7],[3.68,8.87],[3.91,9.01],[4.37,8.59],[4.66,8.83],[4.84,8.54],[5.16,8.77],[-1.23,8.7],[-1.27,8.31],[-1.27,8.03],[-1.39,7.75],[-4.02,7.93],[-3.69,7.63],[-.84,7.51],[1.08,8.52],[.63,8.24],[1.83,8.45],[1.54,8.2],[1.84,8.1],[1.08,8.03],[.9,7.77],[.33,7.77],[1.54,7.84],[-.17,8.03],[-.27,7.82],[-.27,7.61],[-.2,7.4],[.01,7.26],[.23,7.16],[.37,7.07],[2.08,7.63],[2.3,7.86],[2.63,7.75],[3.3,8.05],[3.66,8.1],[3.23,7.58],[3.51,7.75],[1.9,7.19],[.7,7.26],[.87,7.23],[.76,6.88],[4.09,7.72],[4.37,7.86],[4.66,7.96],[5.23,7.89],[4.87,7.63],[4.51,7.54],[4.01,7.33],[4.34,7.26],[4.73,7.19],[5.16,7.47],[-1.27,7.26],[-1.27,6.98],[-1.34,6.7],[-1.27,6.42],[-1.73,6.72],[-1.7,6.28],[-1.56,6.14],[-1.34,6.21],[-1.34,5.92],[-1.42,5.65],[-1.56,5.3],[-1.49,6.49],[-.44,6.77],[-.34,6.49],[-.27,6.07],[-.42,5.72],[-.34,5.37],[-.49,5.2],[.37,6.63],[.08,6.21],[.16,5.99],[.3,5.86],[.66,6.28],[.73,5.99],[.84,5.64],[1.48,5.79],[1.98,5.76],[1.3,6.91],[1.44,6.63],[1.73,6.42],[1.37,6.28],[2.41,6.28],[3.08,6.32],[3.37,6.56],[3.51,6.42],[2.58,5.86],[2.23,5.51],[2.73,5.43],[3.08,5.79],[3.37,5.93],[3.73,5.93],[1.06,5.2],[.08,5.09],[4.2,6.3],[4,5.9],[4.5,6.1],[4.8,6.5],[3.6,5.4],[3.9,5.3],[4.3,5.6],[4.6,6.9],[5,6.8],[6.89,14.71],[8.22,14.47],[12.97,14.65],[8.43,13.46],[7.06,13],[10.57,13.26],[10.33,13.01],[12.24,12.73],[11.12,12.61],[11,12.41],[10.5,12.33],[7.67,12.38],[5.54,12.12],[6.99,11.99],[9.3,11.95],[9.33,11.72],[7.03,11.5],[6.83,11.35],[9.97,11.46],[9.97,11.21],[13.26,11.95],[12.57,11.6],[5.36,10.83],[5.5,10.76],[4.63,10.59],[6.1,10.74],[6.62,10.77],[7,10.53],[8.33,10.59],[9.39,10.41],[12.12,10.46],[5.07,10.16],[5.22,9.87],[5.14,9.57],[6,10.16],[6.57,10.27],[5.86,9.75],[6.82,9.8],[7.76,10.03],[8.22,9.92],[7.93,9.57],[8.22,9.5],[7.36,9.46],[7.6,9.22],[6.24,9.61],[6.4,9.43],[4.72,9.46],[4.5,9.53],[4.43,9.29],[6.86,9.19],[11.33,9.52],[10.43,8.87],[10.76,8.87],[10.96,8.73],[10.5,9.22],[4.64,8.8],[5.17,8.77],[4.83,8.54],[6.07,8.66],[6.36,8.87],[11.72,8.33],[10.14,8.52],[10.12,8.17],[11.62,7.47],[12.16,7.43],[12.87,7.19],[9.79,7.54],[9.23,7.56],[9.4,7.13],[9.57,7.89],[8.86,6.44],[9.42,6.25],[10.72,6.15],[10.33,5.56],[9.36,5.23],[10.14,5.16],[7.57,5.53],[7.36,5.16],[6.22,8.1],[5.86,8.03],[5.22,7.89],[4.6,7.91],[5.64,7.96],[6.86,8.17],[6.72,7.96],[4.86,7.61],[6.14,7.75],[-6.04,-2.44],[-2.94,1.89],[-3.49,1.42],[-3.96,.43],[-4.1,-.17],[-4.06,-.38],[-3.56,0],[-3.7,-.45],[-4.09,-.9],[-4.39,-1.2],[-3.1,.08],[-3.13,.5],[-2.92,.46],[-2.63,.67],[-2.34,1.02],[-1.99,.95],[-1.34,1.33],[-1.06,1.27],[-.8,1.96],[-.42,2.04],[-.77,2.63],[-.7,2.42],[-1.24,2.8],[-1.56,2.54],[-1.24,3.33],[-.83,3.44],[-.24,3.9],[.23,3.95],[.14,4.38],[-.24,2.91],[.01,3.15],[.63,2.81],[-1.44,4.52],[-1.49,4.87],[-1.42,5.15],[-.49,5.08],[.11,5.01],[.54,4.8],[1.06,4.84],[1.09,5.15],[1.87,4.73],[2.08,4.8],[1.87,4.2],[2.23,4.31],[2.37,4.03],[.87,4.24],[1.01,3.82],[1.3,3.61],[1.8,3.75],[.8,3.75],[1.08,3.12],[1.3,2.91],[2.73,4.87],[3.16,4.87],[3.01,4.45],[-5.17,-3.58],[-4.77,-3.18],[-4.92,-3.32],[-4.34,-3.74],[-3.82,-3.81],[-3.92,-4.3],[-3.37,-4.09],[-3.49,-4.72],[-2.7,-4.58],[-2.34,-4.67],[-2.06,-4.37],[-1.7,-4.23],[-1.27,-4.09],[-.84,-3.95],[.31,-4.32],[.28,-3.67],[1.01,-2.62],[1.08,-3.18],[1.8,-3],[2.3,-2.51],[1.58,-2.13],[1.44,-2.27],[3.01,-.77],[3.41,-.76],[3.37,-.28],[2.8,-.03],[4.34,-1.08],[4.26,.56],[3.87,1.16],[3.73,.88],[4.37,1.02],[4.66,1.16],[3.87,1.58],[4.16,1.62],[4.51,1.51],[4.87,1.58],[4.94,2],[4.66,2.42],[5.16,2.63],[5.16,.92],[5.27,.46],[8.59,4.76],[9.03,4.66],[9.36,5.19],[10.14,5.12],[7.24,4.91],[7.03,3.95],[6.69,3.86],[6.46,3.64],[6.14,3.58],[6.72,4.56],[6.36,4.38],[5.64,3.05],[5.43,2.98],[5,2.63],[4.64,2.42],[5.43,2.42],[5.7,2.18],[4.9,1.97],[5.43,1.93],[5.29,1.79],[6.12,1.61],[6.24,1.23],[5.69,1.55],[5.47,1.12],[5.14,.91],[5.32,.46],[4.93,1.48],[4.64,1.65],[4.64,1.12],[4.5,.95],[4.43,-1.05]];
const greenPointsRight=[[-1.37,8.56],[-.77,8.49],[-.23,8.56],[8.03,11.04],[8.84,10.38],[6.67,8.88],[5.54,5.65],[5.76,5.62],[5.69,5.3],[4.74,5.27],[5.11,5.16],[.64,3.3],[-1.94,.63],[-2.87,-1.28],[-2.53,-2.34],[-2.12,-2.51],[3.96,-.14],[2.93,-.51],[2.41,-.59],[2.16,-.8],[2.38,-1.22],[1.91,-2.6],[1.8,-3.34],[.84,-3.18],[1.94,-1.78],[1.66,-1.29],[1.44,-1.43],[1.08,-2.18],[4.37,2.9],[4.13,2.35],[3.87,2.04],[3.34,1.37],[3.48,.95],[2.98,.81],[2.66,.88],[3.94,4.77],[4.3,4.63],[.97,2.35],[2.2,3.36],[.09,2],[-.06,1.86],[-1.7,-.14],[-1.49,-.1],[-.96,.67],[-1.13,.43],[-1.94,-1.15],[-1.63,-1.71],[-1.27,-1.85],[-1.63,-2.34],[-1.49,-2.76],[-1.7,-2.9],[-1.06,-2.62],[.44,-2.83],[.3,-3.07],[-.06,-3.32],[-1.75,-1.5],[-1.5,-1.3],[-1.42,-3.25],[-1.1,-3.2],[-.8,-3.35]];

const expand=cols=>cols.flatMap(c=>c[1].map(y=>[c[0],y]));
const grayLeft=expand(grayBandLeft).concat(expand(grayFillLeft),grayPointsLeft);
const greenLeft=expand(greenBandLeft).concat(expand(greenFillLeft),greenPointsLeft);
const grayRight=expand(grayBandRight).concat(expand(grayFillRight),grayPointsRight);
const greenRight=expand(greenBandRight).concat(expand(greenFillRight),greenPointsRight);

const FONT='"Liberation Sans",Arial,sans-serif';
const fmt=v=>String(v).replace('-','\u2212');
function xAxis(i){return {type:'value',gridIndex:i,min:axisMin,max:axisMax,splitLine:{show:false},axisLine:{show:false,onZero:false},
  axisTick:{show:true,length:16,customValues:tickValues,lineStyle:{color:'#000',width:1}},
  axisLabel:{show:true,customValues:tickValues,formatter:fmt,fontFamily:FONT,fontSize:28,color:'#000',margin:21}};}
function yAxis(i){return {type:'value',gridIndex:i,min:axisMin,max:axisMax,splitLine:{show:false},axisLine:{show:false,onZero:false},
  axisTick:{show:true,length:16,customValues:tickValues,lineStyle:{color:'#000',width:1}},
  axisLabel:{show:true,customValues:tickValues,formatter:fmt,rotate:90,fontFamily:FONT,fontSize:28,color:'#000',margin:18}};}
function pts(name,data,color,i){return {name,type:'scatter',xAxisIndex:i,yAxisIndex:i,data,symbolSize:9.2,large:false,clip:true,animation:false,
  itemStyle:{color,opacity:1,borderWidth:0},silent:true};}
function diag(off,i){return {type:'line',xAxisIndex:i,yAxisIndex:i,data:[[axisMin,axisMin+off],[axisMax,axisMax+off]],showSymbol:false,symbol:'none',clip:true,animation:false,silent:true,z:5,
  lineStyle:{color:'#FF0000',width:2.6,type:[11,9]}};}
function txt(left,top,text,size,color){return {type:'text',left,top,z:10,style:{text,fontFamily:FONT,fontSize:size,fontWeight:'bold',fill:color}};}
const titleRich={a:{fontFamily:FONT,fontSize:33,fontWeight:'bold',fontStyle:'italic',color:'#000'},b:{fontFamily:FONT,fontSize:33,fontWeight:'normal',fontStyle:'normal',color:'#000'}};

const chart=echarts.init(document.getElementById('c'),null,{renderer:'canvas'});
chart.setOption({animation:false,backgroundColor:'#fff',
  title:[
    {left:124,top:19,padding:0,text:'{a|'+panelTitles[0]+'}{b|\u0394}',textStyle:{fontWeight:'normal',rich:titleRich}},
    {left:751,top:19,padding:0,text:'{a|'+panelTitles[1]+'}{b|\u0394}',textStyle:{fontWeight:'normal',rich:titleRich}}
  ],
  grid:[
    {left:98,top:10,width:555,height:564,show:true,borderColor:'#707070',borderWidth:1.5,backgroundColor:'transparent'},
    {left:726,top:10,width:555,height:564,show:true,borderColor:'#707070',borderWidth:1.5,backgroundColor:'transparent'}
  ],
  xAxis:[xAxis(0),xAxis(1)],yAxis:[yAxis(0),yAxis(1)],
  series:[pts('all RNAs',grayLeft,'#A9A9A9',0),pts('CUTs',greenLeft,'#006400',0),diag(lineOffsets[0],0),diag(lineOffsets[1],0),
          pts('all RNAs',grayRight,'#A9A9A9',1),pts('XUTs',greenRight,'#006400',1),diag(lineOffsets[0],1),diag(lineOffsets[1],1)],
  graphic:[
    txt(489,469,panelLegends[0],36,'#006400'),txt(489,513,legendAll,36,'#A9A9A9'),
    txt(1116,469,panelLegends[1],36,'#006400'),txt(1116,513,legendAll,36,'#A9A9A9'),
    {type:'text',left:375,top:633,style:{text:xTitle,fontFamily:FONT,fontSize:31.4,fill:'#000'}},
    {type:'text',x:25,y:298,rotation:Math.PI/2,originX:0,originY:0,style:{text:yTitle,fontFamily:FONT,fontSize:31,fill:'#000',align:'center',verticalAlign:'middle'}}
  ]
});
</script></body></html>
